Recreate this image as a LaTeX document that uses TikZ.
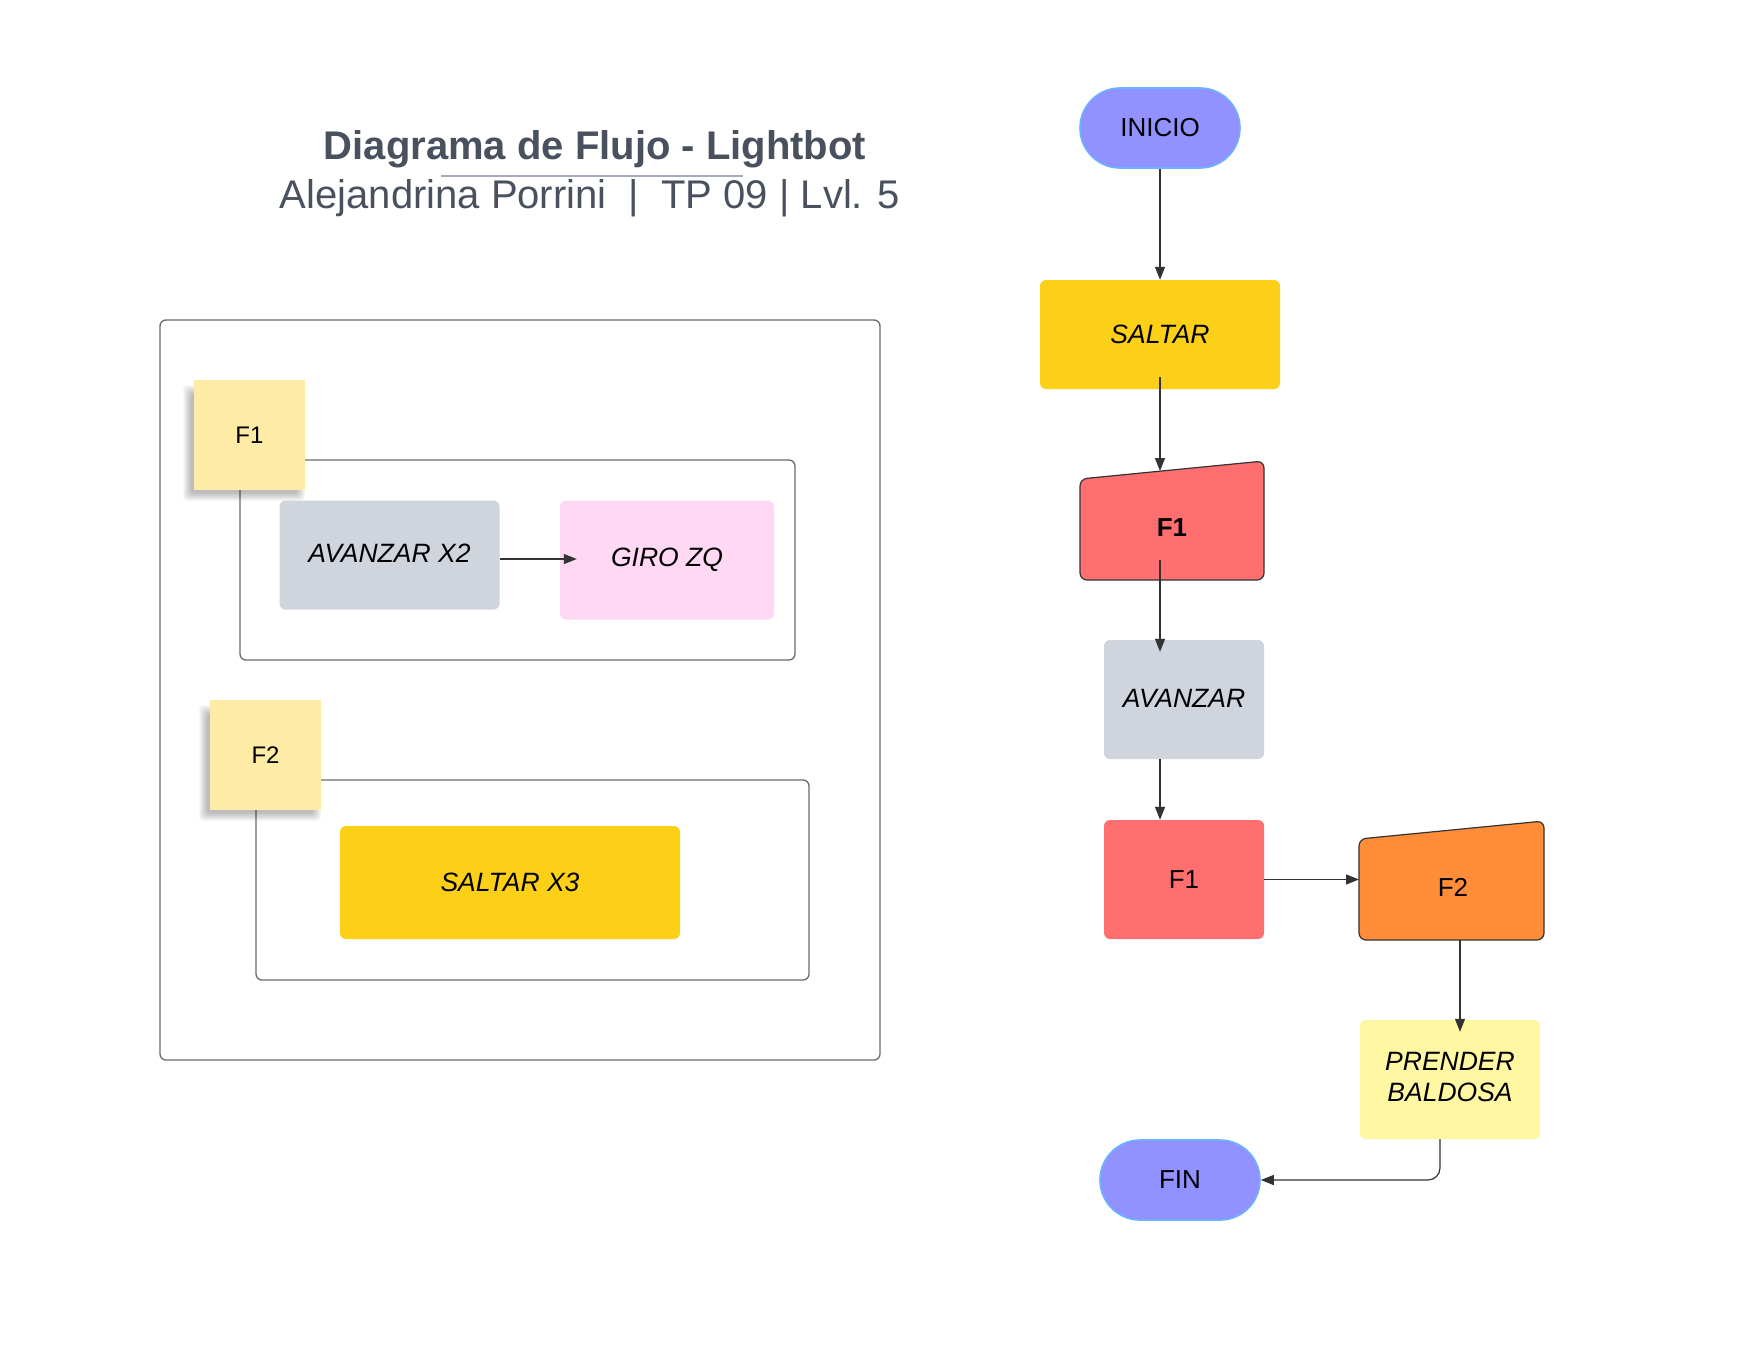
\documentclass[tikz,border=0pt]{standalone}
\usepackage{fontspec}
\setmainfont{Liberation Sans}
\usetikzlibrary{arrows.meta,calc}
\definecolor{titleC}{HTML}{4A515E}
\definecolor{ruleC}{HTML}{A3AAB8}
\definecolor{frameC}{HTML}{6B6B6B}
\definecolor{lineC}{HTML}{333333}
\definecolor{yelC}{HTML}{FCD016}
\definecolor{redC}{HTML}{FF6F6F}
\definecolor{orgC}{HTML}{FF8C38}
\definecolor{grayC}{HTML}{CFD4DD}
\definecolor{pinkC}{HTML}{FFD8F4}
\definecolor{lyelC}{HTML}{FFF7A1}
\definecolor{stickyC}{HTML}{FEEBA6}
\definecolor{termC}{HTML}{9191FF}
\definecolor{termB}{HTML}{6CB2FF}
\newcommand{\softshadow}[4]{% left top right bottom
  \foreach \i in {0,1,...,9}{
    \fill[black, opacity=0.028, rounded corners=4pt]
      ({#1-3-\i*0.9},{#2+14-\i}) rectangle ({#3-8+\i*0.9},{#4+3+\i*0.9});
  }}
\begin{document}
\begin{tikzpicture}[x=1pt,y=-1pt,
  arr/.style={-{Triangle[length=13pt,width=10pt]}, draw=lineC, line width=1.2pt},
  frame/.style={draw=frameC, line width=1.3pt, rounded corners=6pt},
  proc/.style={rectangle, rounded corners=6pt, inner sep=0pt, font=\fontsize{26.5}{32}\selectfont\itshape, text=black},
  sticky/.style={rectangle, fill=stickyC, inner sep=0pt, font=\fontsize{24}{30}\selectfont},
  term/.style={rectangle, rounded corners=40pt, fill=termC, draw=termB, line width=1.6pt, inner sep=0pt,
    minimum width=160pt, minimum height=80pt, font=\fontsize{26}{30}\selectfont},
  manual/.style={fill=#1, draw=lineC, line width=1.2pt, rounded corners=7pt}
]
\useasboundingbox (0,0) rectangle (1760,1360);
\fill[white] (0,0) rectangle (1760,1360);

% title
\node[font=\fontsize{40}{48}\selectfont\bfseries, text=titleC] (title) at (595,149.5) {Diagrama de Flujo - Lightbot};
\draw[ruleC, line width=1.5pt] (441,176) -- (743,176);
\node[font=\fontsize{40}{48}\selectfont, text=titleC] (sub) at (590,198.5) {Alejandrina Porrini\ \ |\ \ TP 09 | Lvl. 5};

% left panel
\draw[frame] (160,320) rectangle (880,1060);
\draw[frame] (240,460) rectangle (795,660);
\softshadow{194}{380}{305}{490}
\node[sticky, minimum width=111pt, minimum height=110pt] (st1) at (249.5,435) {F1};
\node[proc, fill=grayC, minimum width=220pt, minimum height=109pt] (avz2x) at (389.5,555) {\raisebox{3pt}{AVANZAR X2}};
\node[proc, fill=pinkC, minimum width=214pt, minimum height=119pt] (giro) at (667,560) {GIRO ZQ};
\draw[arr, shorten >=-17pt] ($(avz2x.east)+(0,4)$) -- ($(avz2x.east -| giro.west)+(0,4)$);

\draw[frame] (256,780) rectangle (809,980);
\softshadow{210}{700}{321}{810}
\node[sticky, minimum width=111pt, minimum height=110pt] (st2) at (265.5,755) {F2};
\node[proc, fill=yelC, minimum width=340pt, minimum height=113pt] (saltx3) at (510,882.5) {SALTAR X3};

% right flowchart
\node[term] (inicio) at (1160,128) {INICIO};
\node[proc, fill=yelC, minimum width=240pt, minimum height=109pt] (saltar) at (1160,334.5) {SALTAR};
\draw[manual=redC] (1080,479) -- (1264,461) -- (1264,580) -- (1080,580) -- cycle;
\node[font=\fontsize{26}{30}\selectfont\bfseries] (f1m) at (1172,528) {F1};
\coordinate (f1top) at (1160,471);
\coordinate (f1bot) at (1160,580);
\node[proc, fill=grayC, minimum width=160pt, minimum height=119pt] (avz) at (1184,699.5) {\raisebox{2pt}{AVANZAR}};
\node[proc, fill=redC, minimum width=160pt, minimum height=119pt, font=\fontsize{26}{30}\selectfont] (f1b) at (1184,879.5) {F1};
\draw[manual=orgC] (1359,839) -- (1544,821) -- (1544,940) -- (1359,940) -- cycle;
\node[font=\fontsize{26}{30}\selectfont] (f2m) at (1453,887) {F2};
\coordinate (f2left) at (1359,880);
\coordinate (f2bot) at (1460,940);
\node[proc, fill=lyelC, minimum width=180pt, minimum height=119pt, align=center,
  font=\fontsize{26.5}{32}\selectfont\itshape] (prender) at (1450,1079.5) {\raisebox{2pt}{\begin{tabular}{@{}c@{}}PRENDER\\[-1pt]BALDOSA\end{tabular}}};
\coordinate (pb) at (1440,1139);
\node[term] (fin) at (1180,1180) {FIN};

% connectors
\draw[arr] (inicio.south) -- (saltar.north);
\draw[arr, shorten <=-12pt] (saltar.south) -- (f1top);
\draw[arr, shorten <=-20pt, shorten >=-12pt] (f1bot) -- (f1bot |- avz.north);
\draw[arr] (avz.south -| f1bot) -- (f1b.north -| f1bot);
\draw[arr] (f1b.east) -- (f1b.east -| f2left);
\draw[arr, shorten >=-12pt] (f2bot) -- (f2bot |- prender.north);
\draw[arr, rounded corners=12pt] (pb) |- (fin.east);
\end{tikzpicture}
\end{document}
